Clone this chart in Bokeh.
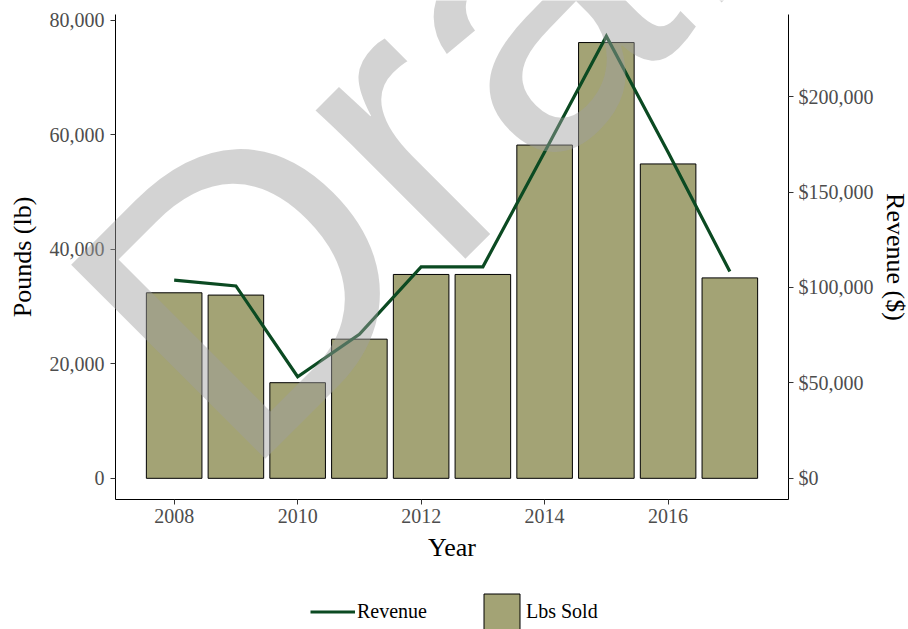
import math

from bokeh.embed import file_html
from bokeh.models import (ColumnDataSource, FixedTicker, Label, Legend, LegendItem,
                          LinearAxis, NumeralTickFormatter, Range1d)
from bokeh.plotting import figure
from bokeh.resources import INLINE

# Annual sales
years = [2008, 2009, 2010, 2011, 2012, 2013, 2014, 2015, 2016, 2017]
lbs_sold = [32400, 32000, 16700, 24300, 35600, 35600, 58200, 76100, 54900, 35000]
revenue = [103800, 100800, 53200, 75500, 110800, 110800, 171000, 231600, 170800, 108300]

# Axis ticks
year_ticks = [2008, 2010, 2012, 2014, 2016]
lbs_ticks = [0, 20000, 40000, 60000, 80000]
revenue_ticks = [0, 50000, 100000, 150000, 200000]

# Secondary axis: dollars per unit of the pounds axis
REV_SCALE = 3

# Panel extent in data units, and where the panel sits on the page (px)
X_START, X_END = 2007.05, 2017.95
LBS_START, LBS_END = -3700, 81000
W, H = 908, 629
PANEL_LEFT, PANEL_RIGHT, PANEL_TOP, PANEL_BOTTOM = 115, 788, 14, 499

# The plotting frame covers the whole page so that the legend and the
# watermark are not clipped; the axes are pinned to the panel edges.
x_per_px = (X_END - X_START) / (PANEL_RIGHT - PANEL_LEFT)
y_per_px = (LBS_END - LBS_START) / (PANEL_BOTTOM - PANEL_TOP)
x_range = Range1d(X_START - PANEL_LEFT * x_per_px, X_END + (W - PANEL_RIGHT) * x_per_px)
y_range = Range1d(LBS_START - (H - PANEL_BOTTOM) * y_per_px, LBS_END + PANEL_TOP * y_per_px)

SERIF = "Liberation Serif"
TICK_GRAY = "#4d4d4d"
BAR_FILL = "#a3a375"
LINE_GREEN = "#0b4a22"

src = ColumnDataSource(data=dict(year=years, lbs=lbs_sold, revenue=revenue))

p = figure(
    width=W, height=H, x_range=x_range, y_range=y_range,
    output_backend="svg", toolbar_location=None,
    min_border=0,
    background_fill_color="white", border_fill_color="white",
)
p.outline_line_color = None
p.xgrid.visible = False
p.ygrid.visible = False

p.extra_y_ranges = {"rev": Range1d(y_range.start * REV_SCALE, y_range.end * REV_SCALE)}

bars = p.vbar(x="year", top="lbs", bottom=0, width=0.9, source=src,
              fill_color=BAR_FILL, line_color="black", line_width=1)
rev_line = p.line(x="year", y="revenue", source=src, y_range_name="rev",
                  line_color=LINE_GREEN, line_width=3.2, line_join="miter")

def style_axis(ax):
    ax.axis_line_color = "black"
    ax.axis_line_width = 1
    ax.major_tick_line_color = "#333333"
    ax.major_tick_in = 0
    ax.major_tick_out = 5
    ax.minor_tick_line_color = None
    ax.major_label_text_font = SERIF
    ax.major_label_text_font_size = "20px"
    ax.major_label_text_color = TICK_GRAY
    ax.axis_label_text_font = SERIF
    ax.axis_label_text_font_size = "26px"
    ax.axis_label_text_font_style = "normal"
    ax.axis_label_text_color = "black"

xa = p.xaxis[0]
xa.ticker = FixedTicker(ticks=year_ticks)
xa.axis_label = "Year"
xa.fixed_location = LBS_START
xa.bounds = (X_START, X_END)
style_axis(xa)
xa.major_label_standoff = 4
xa.axis_label_standoff = 7

ya = p.yaxis[0]
ya.ticker = FixedTicker(ticks=lbs_ticks)
ya.formatter = NumeralTickFormatter(format="0,0")
ya.axis_label = "Pounds (lb)"
ya.fixed_location = X_START
ya.bounds = (LBS_START, LBS_END)
style_axis(ya)
ya.major_label_standoff = 6
ya.axis_label_standoff = 10

ra = LinearAxis(y_range_name="rev", ticker=FixedTicker(ticks=revenue_ticks),
                formatter=NumeralTickFormatter(format="$0,0"),
                axis_label="Revenue ($)",
                fixed_location=X_END,
                bounds=(LBS_START * REV_SCALE, LBS_END * REV_SCALE))
style_axis(ra)
ra.major_label_standoff = 5
ra.axis_label_standoff = 4
p.add_layout(ra, "right")

# Legend under the x axis title
legend = Legend(
    items=[LegendItem(label="Revenue", renderers=[rev_line]),
           LegendItem(label="Lbs Sold", renderers=[bars])],
    orientation="horizontal", location=(310, -5),
    glyph_width=45, glyph_height=45, label_standoff=2, spacing=52,
    padding=0, margin=0,
    border_line_color=None, background_fill_alpha=0,
    label_text_font=SERIF, label_text_font_size="20px", label_text_color="black",
)
p.add_layout(legend, "center")

# "Draft" watermark, rising diagonally across the panel
watermark = Label(
    x=2007.52, y=16400, text="Draft", angle=math.pi / 4,
    text_font="Liberation Sans", text_font_size="399px",
    text_color="#9f9f9f", text_alpha=0.46,
    text_align="left", text_baseline="alphabetic",
)
p.add_layout(watermark)

open("out.html", "w").write(file_html(p, INLINE))
